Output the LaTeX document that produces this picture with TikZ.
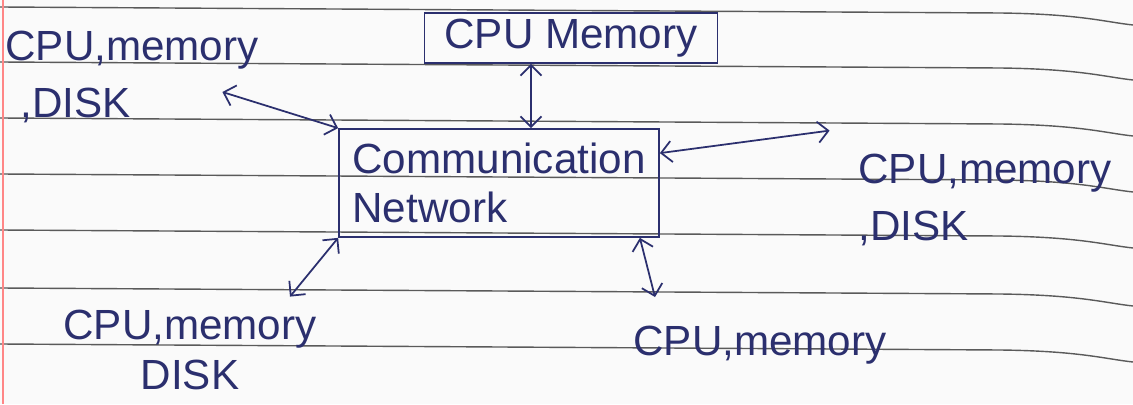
\documentclass[tikz,border=0pt]{standalone}
\usepackage{fontspec}
\setmainfont{Liberation Sans}
\usetikzlibrary{arrows.meta,positioning}
\definecolor{ink}{HTML}{2B2F6E}
\definecolor{rulegray}{HTML}{5A5A5A}
\tikzset{
  notetext/.style={text=ink, font=\fontsize{24}{32}\selectfont, align=left, inner sep=2pt},
  box/.style={draw=ink, line width=1pt},
  link/.style={draw=ink, line width=1pt, {Straight Barb[length=6pt,width=12pt]}-{Straight Barb[length=6pt,width=12pt]}},
  ruled/.style={draw=rulegray, line width=0.8pt}
}
\begin{document}
\begin{tikzpicture}
    \useasboundingbox (0,0) rectangle (22.66,8.08);
    \fill[white!96!gray] (0,0) rectangle (22.66,8.08);
    %% notebook lines
    \foreach \ly in {7.94,6.84,5.72,4.6,3.48,2.32,1.2}
        \draw[ruled] (0,\ly) -- (20,\ly-0.12) .. controls (21.6,\ly-0.14) and (22.1,\ly-0.3) .. (22.66,\ly-0.36);
    \draw[pink!70!red, line width=0.6pt] (0.06,0) -- (0.06,8.08);
    %%
    \node[notetext] (tl) at (2.64,6.54) {CPU,memory\\\hspace{0.3cm},DISK};
    \node[notetext, box, minimum width=5.86cm, minimum height=1cm] (top) at (11.42,7.32) {CPU Memory};
    \node[notetext, box, minimum width=6.4cm, minimum height=2.16cm,
        font=\fontsize{24}{28}\selectfont] (comm) at (9.98,4.42) {Communication\\Network};
    \node[notetext] (rt) at (19.7,4.08) {CPU,memory\\,DISK};
    \node[notetext, align=center, font=\fontsize{24}{28}\selectfont] (bl) at (3.8,1.08) {CPU,memory\\DISK};
    \node[notetext] (br) at (15.2,1.18) {CPU,memory};
    %%
    \draw[link] ([xshift=-0.8cm,yshift=-0.3cm]tl.east) -- (comm.north west);
    \draw[link] ([xshift=-0.8cm]top.south) -- ([xshift=-0.8cm]top.south |- comm.north);
    \draw[link] ([yshift=-0.5cm]comm.north east) -- ([xshift=-0.5cm,yshift=0.4cm]rt.north west);
    \draw[link] (comm.south west) -- ([xshift=2cm,yshift=0.2cm]bl.north);
    \draw[link] ([xshift=-0.4cm]comm.south east) -- ([xshift=-2.1cm,yshift=0.5cm]br.north);
\end{tikzpicture}
\end{document}
